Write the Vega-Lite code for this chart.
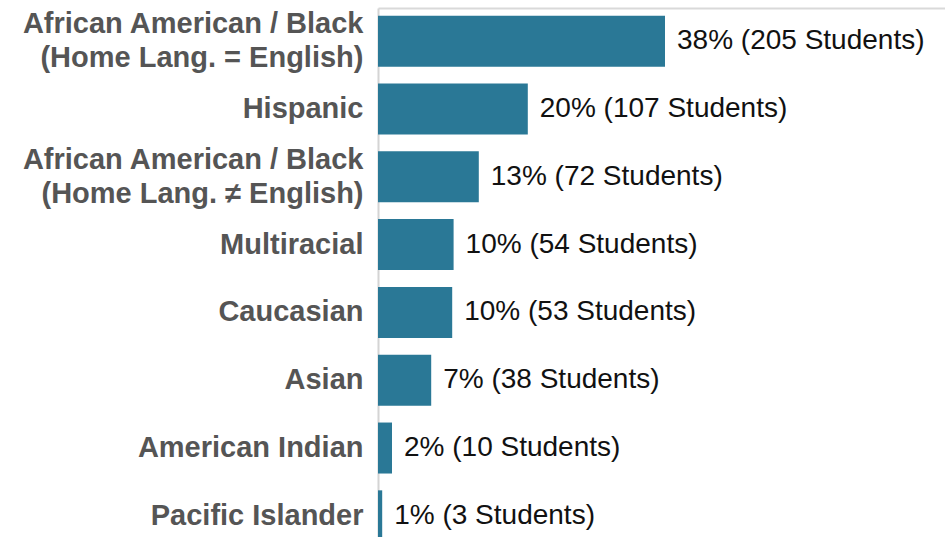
{
  "$schema": "https://vega.github.io/schema/vega-lite/v6.json",
  "width": 567,
  "height": 541,
  "autosize": {"type": "none"},
  "padding": {"left": 378, "top": 8, "right": 0, "bottom": 0},
  "background": "white",
  "config": {"view": {"stroke": null}},
  "data": {
    "values": [
      {"group": "African American / Black|(Home Lang. = English)", "students": 205, "pct": "38%"},
      {"group": "Hispanic", "students": 107, "pct": "20%"},
      {"group": "African American / Black|(Home Lang. ≠ English)", "students": 72, "pct": "13%"},
      {"group": "Multiracial", "students": 54, "pct": "10%"},
      {"group": "Caucasian", "students": 53, "pct": "10%"},
      {"group": "Asian", "students": 38, "pct": "7%"},
      {"group": "American Indian", "students": 10, "pct": "2%"},
      {"group": "Pacific Islander", "students": 3, "pct": "1%"}
    ]
  },
  "transform": [
    {"calculate": "datum.pct + ' (' + datum.students + ' Students)'", "as": "label"}
  ],
  "encoding": {
    "y": {
      "field": "group",
      "type": "nominal",
      "sort": null,
      "scale": {"paddingInner": 0.248, "paddingOuter": 0.113},
      "axis": {
        "title": null,
        "ticks": false,
        "domainColor": "#d4d4d4",
        "domainWidth": 2,
        "labelFont": "Liberation Sans",
        "labelFontSize": 29,
        "labelFontWeight": "bold",
        "labelColor": "#555555",
        "labelPadding": 15,
        "labelLineHeight": 34,
        "labelLimit": 400,
        "labelOffset": {"condition": {"test": "indexof(datum.value, '|') >= 0", "value": -17}, "value": 0},
        "labelExpr": "split(datum.value, '|')"
      }
    },
    "x": {
      "field": "students",
      "type": "quantitative",
      "scale": {"domain": [0, 405]},
      "axis": {
        "orient": "top",
        "title": null,
        "labels": false,
        "ticks": false,
        "grid": false,
        "domainColor": "#d9d9d9",
        "domainWidth": 2
      }
    }
  },
  "layer": [
    {"mark": {"type": "bar", "color": "#2a7896"}},
    {
      "mark": {
        "type": "text",
        "align": "left",
        "baseline": "middle",
        "dx": 12,
        "font": "Liberation Sans",
        "fontSize": 28,
        "color": "#111111"
      },
      "encoding": {
        "text": {"field": "label"}
      }
    }
  ]
}
